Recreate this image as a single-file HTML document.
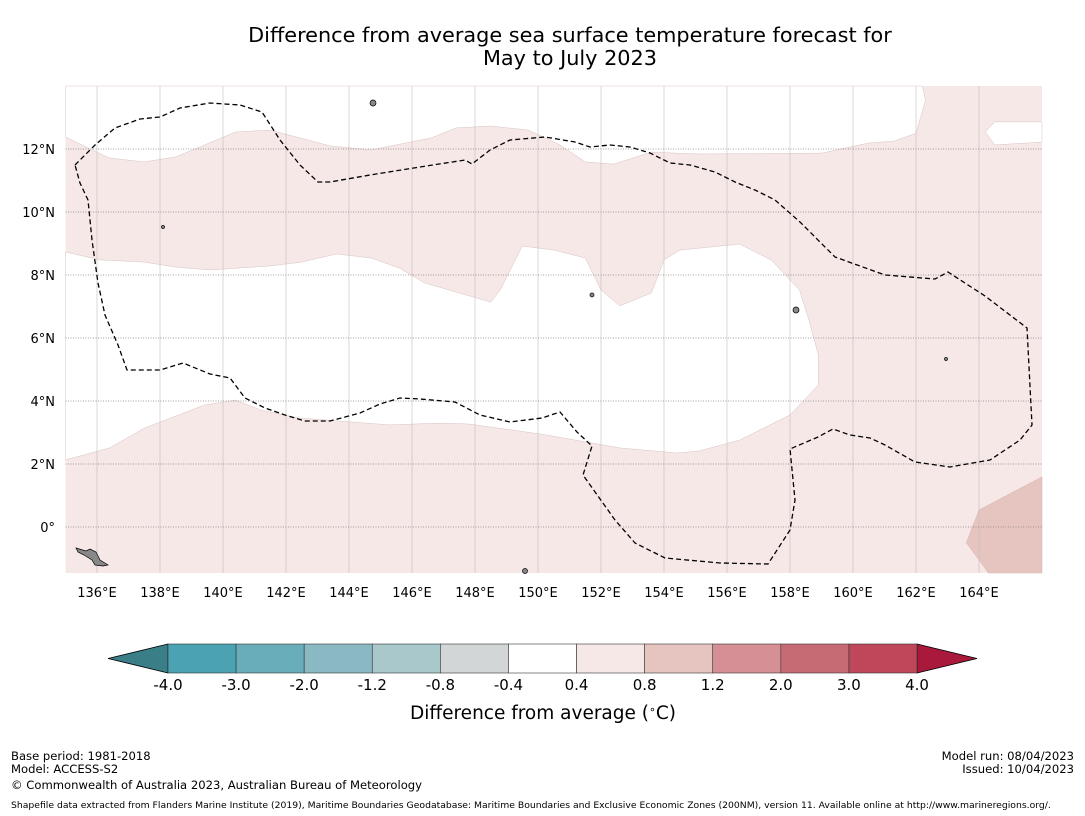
<!DOCTYPE html>
<html><head><meta charset="utf-8">
<style>
body{margin:0;background:#fff;width:1085px;height:816px;overflow:hidden;font-family:"DejaVu Sans","Liberation Sans",sans-serif;}
svg{display:block}
</style></head>
<body>
<svg id="chart" width="1085" height="816" xmlns="http://www.w3.org/2000/svg">
<text x="570" y="42" text-anchor="middle" font-size="20.8">Difference from average sea surface temperature forecast for</text>
<text x="570" y="65" text-anchor="middle" font-size="20.8">May to July 2023</text>
<g id="map"></g>
<g id="cbar"></g>
<text x="543" y="719" text-anchor="middle" font-size="18.5">Difference from average (<tspan baseline-shift="super" font-size="11">∘</tspan>C)</text>
<g font-size="11.6">
<text x="11" y="760">Base period: 1981-2018</text>
<text x="11" y="773">Model: ACCESS-S2</text>
<text x="11" y="789">© Commonwealth of Australia 2023, Australian Bureau of Meteorology</text>
<text x="1074" y="760" text-anchor="end">Model run: 08/04/2023</text>
<text x="1074" y="773" text-anchor="end">Issued: 10/04/2023</text>
<text x="11" y="808" font-size="9.25">Shapefile data extracted from Flanders Marine Institute (2019), Maritime Boundaries Geodatabase: Maritime Boundaries and Exclusive Economic Zones (200NM), version 11. Available online at http://www.marineregions.org/.</text>
</g>
</svg>
<script>
const NS="http://www.w3.org/2000/svg";
// axis data
const lonTicks=[136,138,140,142,144,146,148,150,152,154,156,158,160,162,164];
const latTicks=[0,2,4,6,8,10,12];
const lonMin=135, lonMax=166, latMin=-1.46, latMax=14;
// colorbar data
const levels=[-4.0,-3.0,-2.0,-1.2,-0.8,-0.4,0.4,0.8,1.2,2.0,3.0,4.0];
const binColors=["#4aa2b2","#6aadba","#8ab8c3","#a8c8cc","#d3d6d7","#ffffff","#f5e8e7","#e6c5c1","#d69095","#c66a74","#be4759"];
const underColor="#3a7f87", overColor="#a8193b";
// forecast regions (lon, lat)
const upperWhite=[[135,12.38],[136.4,11.71],[137.5,11.59],[138.5,11.75],[140.4,12.54],[141.5,12.6],[143.4,12.1],[144.7,11.97],[146.6,12.35],[147.4,12.67],[148.5,12.73],[149.7,12.6],[150.7,12.13],[151.5,11.59],[152.4,11.52],[153.6,11.9],[155.1,11.84],[159.0,11.87],[160.5,12.19],[161.3,12.25],[162.0,12.5],[162.3,13.56],[162.2,14],[135,14]];
const notchWhite=[[164.5,12.86],[166,12.86],[166,12.22],[164.5,12.13],[164.2,12.54]];
const centralWhite=[[135,8.73],[136.1,8.48],[137.5,8.41],[138.5,8.25],[139.6,8.16],[141.5,8.29],[142.5,8.41],[143.6,8.67],[144.7,8.54],[145.6,8.22],[146.4,7.75],[147.5,7.43],[148.5,7.14],[148.8,7.52],[149.5,8.92],[150.5,8.79],[151.5,8.54],[152.0,7.52],[152.6,7.02],[153.6,7.43],[154.0,8.48],[154.5,8.79],[156.4,8.98],[157.4,8.48],[158.3,7.52],[158.6,6.57],[158.9,5.46],[158.9,4.51],[158.0,3.56],[156.4,2.76],[155.1,2.41],[154.4,2.35],[152.6,2.51],[150.1,2.95],[147.8,3.27],[146.9,3.3],[145.3,3.24],[142.4,3.46],[141.2,3.71],[140.4,4.03],[139.4,3.87],[138.6,3.56],[137.5,3.14],[136.4,2.51],[135,2.13]];
const warmPatch=[[164.0,0.54],[166,1.59],[166,-1.46],[164.3,-1.46],[163.6,-0.5]];

const X0=65.5,X1=1042,Y0=86,Y1=573;
const xs=lon=>X0+(lon-lonMin)/(lonMax-lonMin)*(X1-X0);
const ys=lat=>Y1-(lat-latMin)/(latMax-latMin)*(Y1-Y0);
function mk(tag,attrs,parent){const e=document.createElementNS(NS,tag);for(const k in attrs)e.setAttribute(k,attrs[k]);parent.appendChild(e);return e;}
const pts=a=>a.map(p=>xs(p[0]).toFixed(1)+","+ys(p[1]).toFixed(1)).join(" ");
const map=document.getElementById("map");
let e=mk("rect",{x:X0,y:Y0,width:X1-X0,height:Y1-Y0,fill:"#f5e8e7"},map);


e=mk("polygon",{points:pts(warmPatch),fill:"#e6c5c1",stroke:"#d9b0ad","stroke-width":0.5},map);


[upperWhite,notchWhite,centralWhite].forEach((poly,i)=>{
  const p=mk("polygon",{points:pts(poly),fill:"#fff",stroke:"#d8c4c2","stroke-width":0.5},map);
  
  
});
lonTicks.forEach(l=>{
  const g=mk("line",{x1:xs(l),x2:xs(l),y1:Y0,y2:Y1,stroke:"#c4bcbc","stroke-width":0.6},map);
  
  
  const t=mk("text",{x:xs(l),y:597,"text-anchor":"middle","font-size":13},map);
  t.textContent=l+"°E";
  
  
});
latTicks.forEach(l=>{
  const g=mk("line",{x1:X0,x2:X1,y1:ys(l),y2:ys(l),stroke:"#8a8080","stroke-width":0.7,"stroke-dasharray":"1,1.5"},map);
  
  
  const t=mk("text",{x:55,y:ys(l)+5,"text-anchor":"end","font-size":13},map);
  t.textContent=l===0?"0°":l+"°N";
  
  
});
// EEZ boundary
e=mk("path",{d:"M75,165 L95,145 115,128 140,119 160,117 180,108 210,103 240,105 262,112 280,140 300,165 318,182 330,182 370,175 420,167 465,160 472,164 490,150 510,140 545,137 575,142 590,147 610,145 630,147 650,153 670,163 690,165 715,172 735,182 755,190 775,200 800,222 835,257 885,275 935,279 948,272 985,296 1027,328 1032,425 1020,440 990,460 950,467 915,462 885,445 870,438 850,435 833,429 818,437 790,449 795,500 790,530 768,564 720,563 665,558 635,543 615,520 583,475 592,446 577,432 560,412 542,418 510,422 480,415 455,402 420,399 400,398 380,404 360,413 330,421 305,421 285,415 265,408 245,398 230,378 210,374 183,363 160,370 127,370 118,345 105,315 98,283 92,240 88,200 80,183 Z",fill:"none",stroke:"#000","stroke-width":1.3,"stroke-dasharray":"5,3"},map);


// islands
e=mk("path",{d:"M76,548 L86,551 90,549 96,552 100,560 108,565 103,566 95,565 92,560 84,555 78,552Z",fill:"#888",stroke:"#000","stroke-width":0.7},map);


[[373,103,3],[163,227,1.5],[796,310,3],[592,295,2],[946,359,1.5],[525,571,2.5]].forEach(s=>{
  const c=mk("circle",{cx:s[0],cy:s[1],r:s[2],fill:"#888",stroke:"#000","stroke-width":0.7},map);
  
  
});
// colorbar
const cb=document.getElementById("cbar");
const CX0=168,CX1=917,CY=644,CH=29,n=binColors.length,w=(CX1-CX0)/n;
e=mk("polygon",{points:`${CX0},${CY} ${CX0},${CY+CH} 108,${CY+CH/2}`,fill:underColor,stroke:"#000","stroke-width":0.8},cb);


e=mk("polygon",{points:`${CX1},${CY} ${CX1},${CY+CH} 977,${CY+CH/2}`,fill:overColor,stroke:"#000","stroke-width":0.8},cb);


binColors.forEach((c,i)=>{
  const r=mk("rect",{x:CX0+i*w,y:CY,width:w,height:CH,fill:c,stroke:"#333","stroke-width":0.6},cb);
  
  
});
levels.forEach((v,i)=>{
  const t=mk("text",{x:CX0+i*w,y:690,"text-anchor":"middle","font-size":15},cb);
  t.textContent=v.toFixed(1);
  
  
});
</script>
</body></html>
